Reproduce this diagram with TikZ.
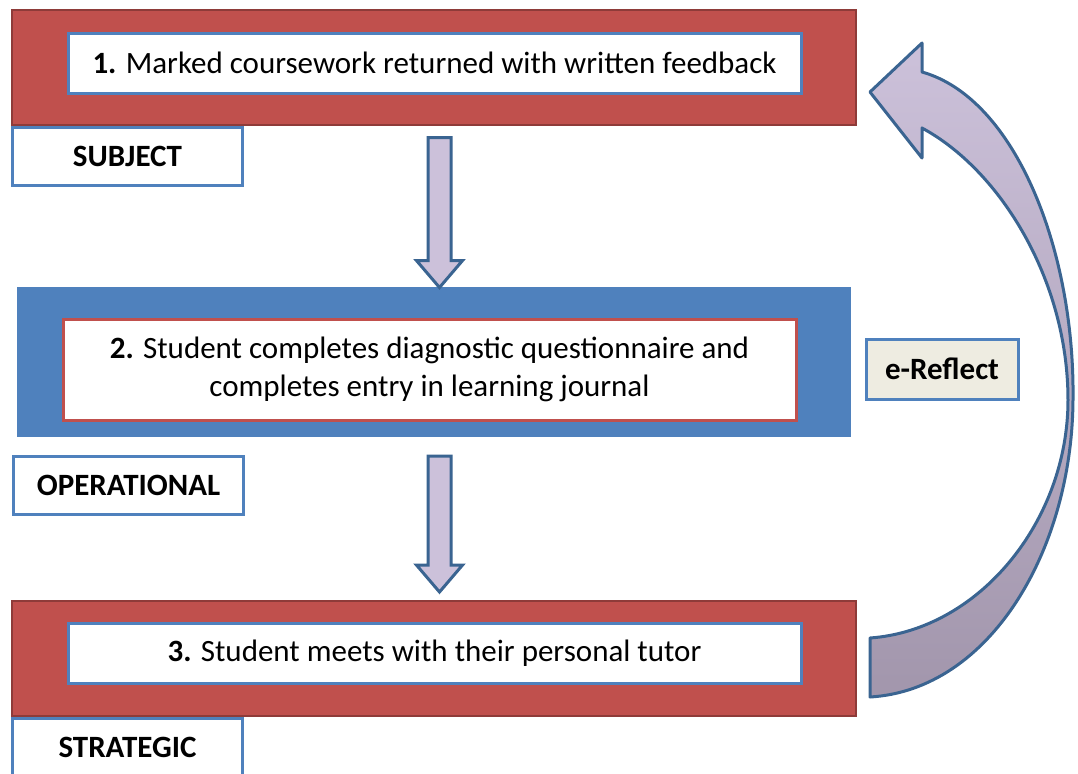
\documentclass[tikz,border=0pt]{standalone}
\usepackage{fontspec}
\setmainfont{Carlito}
\usetikzlibrary{shapes, arrows, positioning, shadows}
\definecolor{bandred}{HTML}{C0504D}
\definecolor{bandredline}{HTML}{8E3B39}
\definecolor{bandblue}{HTML}{4F81BD}
\definecolor{lavender}{HTML}{CCC1DA}
\definecolor{mauve}{HTML}{A296AC}
\definecolor{arrowline}{HTML}{3A6491}
\definecolor{paper}{HTML}{EEECE1}
\tikzstyle{redband} = [rectangle, minimum width=422pt, minimum height=57.5pt, draw=bandredline, line width=1pt, fill=bandred]
\tikzstyle{blueband} = [rectangle, minimum width=418.5pt, minimum height=76.5pt, draw=white, line width=1.5pt, fill=bandblue, drop shadow={shadow xshift=1pt, shadow yshift=-1.2pt, fill=black!30}]
\tikzstyle{stagebox} = [rectangle, minimum width=366.5pt, minimum height=30pt, text centered, draw=bandblue, line width=1.5pt, fill=white]
\tikzstyle{tierbox} = [rectangle, minimum width=115pt, minimum height=29pt, text centered, draw=bandblue, line width=1.5pt, fill=white, font=\bfseries]
\tikzstyle{toolbox} = [rectangle, minimum width=76pt, minimum height=30pt, text centered, draw=bandblue, line width=1.5pt, fill=paper, font=\bfseries]
\tikzstyle{downarrow} = [single arrow, shape border rotate=270, minimum width=21.5pt, single arrow head extend=5.75pt, single arrow tip angle=81, inner xsep=5pt, inner ysep=0pt, draw=arrowline, line width=1.5pt, fill=lavender]

\begin{document}
\fontsize{15.5}{19}\selectfont
\begin{tikzpicture}[x=0.5pt, y=-0.5pt]
\useasboundingbox (0,0) rectangle (1078,773);

% three levels
\node (band1) [redband] at (434,67.5) {};
\node (band2) [blueband] at (433.5,361.5) {};
\node (band3) [redband] at (434,658) {};

\node (step1) [stagebox] at (434.5,63) {\textbf{1.} Marked coursework returned with written feedback};
\node (step2) [stagebox, minimum height=50.5pt, align=center, draw=bandred] at (429.5,369.5) {\textbf{2.} Student completes diagnostic questionnaire and\\completes entry in learning journal};
\node (step3) [stagebox] at (434.5,653.5) {\textbf{3.} Student meets with their personal tutor};

\node (subject) [tierbox, anchor=north west] at (band1.south west) {SUBJECT};
\node (operational) [tierbox, anchor=north west] at (12,455) {OPERATIONAL};
\node (strategic) [tierbox, anchor=north west] at (band3.south west) {STRATEGIC};

\node (ereflect) [toolbox] at (942,369) {e-Reflect};

% arrows between levels
\node (arrow1) [downarrow, minimum height=75pt, below=5pt of band1, xshift=2.75pt] {};
\node (arrow2) [downarrow, minimum height=68pt, below=7.5pt of band2, xshift=3pt] {};

% feedback loop back to the top
\draw [draw=arrowline, line width=1.5pt, top color=lavender, bottom color=mauve, line join=round]
  (870,92) -- (922,43) -- (922,72)
  .. controls (1015,98) and (1075,250) .. (1073,400)
  .. controls (1072,550) and (990,690) .. (870,697)
  -- (870,638)
  .. controls (980,630) and (1068,520) .. (1068,400)
  .. controls (1068,280) and (1000,170) .. (922,128)
  -- (922,158) -- cycle;

\end{tikzpicture}
\end{document}
